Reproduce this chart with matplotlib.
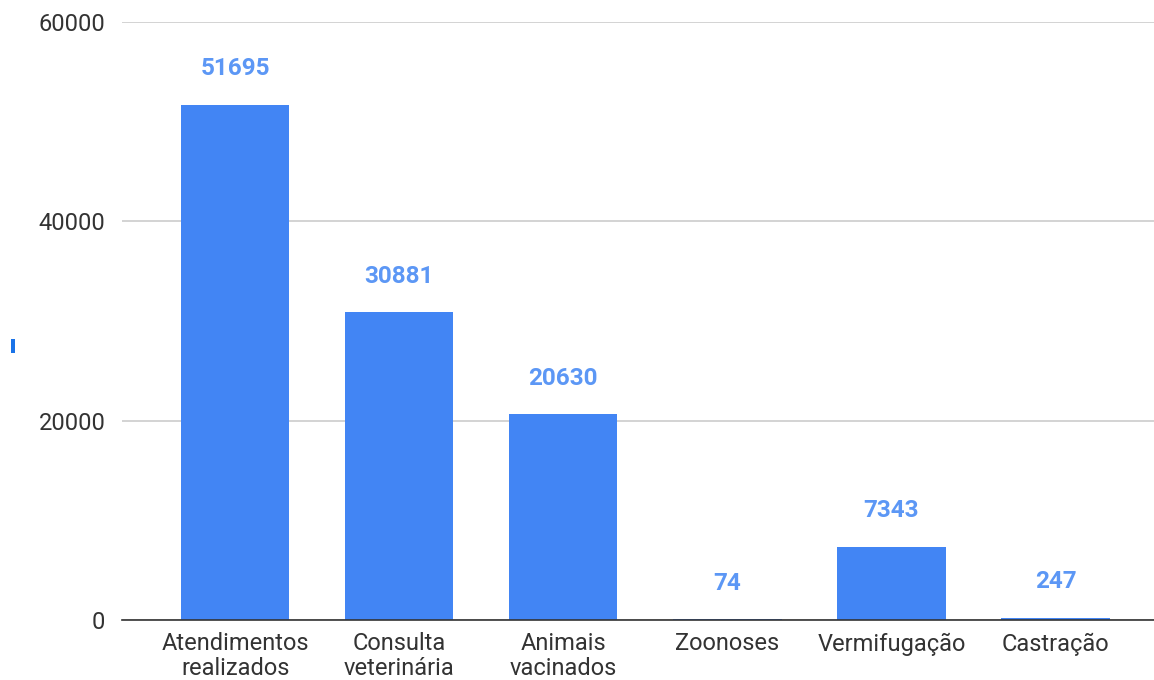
import matplotlib
matplotlib.use("Agg")
import matplotlib.pyplot as plt
from matplotlib.patches import Rectangle

categories = ["Atendimentos\nrealizados", "Consulta\nveterinária", "Animais\nvacinados",
              "Zoonoses", "Vermifugação", "Castração"]
values = [51695, 30881, 20630, 74, 7343, 247]
yticks = [0, 20000, 40000, 60000]

plt.rcParams['font.family'] = ['Roboto', 'DejaVu Sans']

W, H = 1154, 680
fig = plt.figure(figsize=(W / 100, H / 100), dpi=100)
ax = fig.add_axes([122 / W, 60 / H, (1154 - 122) / W, (620 - 22) / H])

bar_color = "#4285F4"
label_color = "#5c97f5"
x = list(range(len(categories)))
ax.bar(x, values, width=0.66, color=bar_color, zorder=3)

for xi, v in zip(x, values):
    ax.annotate(str(v), (xi, v), xytext=(0, 26), textcoords="offset points",
                ha="center", va="center", fontsize=17.5, fontweight="bold",
                color=label_color)

ax.set_xlim(-0.69, 5.6)
ax.set_ylim(0, 60000)
ax.set_yticks(yticks)
ax.set_yticklabels([str(t) for t in yticks])
ax.set_xticks(x)
ax.set_xticklabels(categories, linespacing=1.1)
ax.tick_params(axis="y", length=0, pad=12, labelsize=17, labelcolor="#333333")
ax.tick_params(axis="x", length=0, pad=9, labelsize=17, labelcolor="#333333")
ax.grid(axis="y", color="#cccccc", linewidth=1.2, zorder=0)
for s in ["left", "right", "top"]:
    ax.spines[s].set_visible(False)
ax.spines["bottom"].set_color("#333333")
ax.spines["bottom"].set_linewidth(1.2)
ax.spines["bottom"].set_zorder(4)

fig.add_artist(Rectangle((11 / W, (680 - 353) / H), 4 / W, 14 / H,
                         transform=fig.transFigure, color="#1a73e8", lw=0))

fig.savefig("out.png", dpi=100)
